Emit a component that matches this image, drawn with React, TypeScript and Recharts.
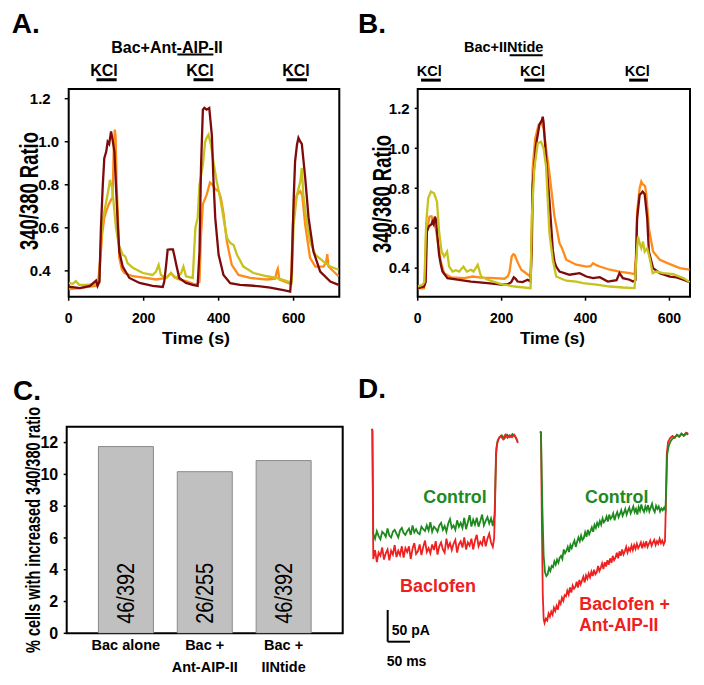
import React from 'react';
import {
  LineChart, Line, XAxis, YAxis, ReferenceArea, ReferenceLine,
  BarChart, Bar, LabelList,
} from 'recharts';

const FONT = '"Liberation Sans", Arial, Helvetica, sans-serif';

type P = [number, number];

// ---------- Panel A (Bac+Ant-AIP-II) : time (s), 340/380 ratio ----------
const aDarkRed: P[] = [[0,0.327],[30,0.32],[57,0.33],[73,0.355],[77,0.33],[82,0.35],[86,0.6],[91,0.8],[95,0.924],[100,0.953],[104,1.0],[108,0.99],[113,1.048],[117,1.01],[122,0.953],[126,0.8],[131,0.614],[135,0.49],[144,0.42],[162,0.367],[189,0.344],[224,0.33],[251,0.325],[255,0.35],[260,0.428],[264,0.498],[270,0.5],[278,0.5],[282,0.47],[287,0.428],[295,0.367],[313,0.344],[331,0.335],[344,0.33],[349,0.49],[353,0.88],[358,1.149],[362,1.157],[368,1.149],[375,1.157],[382,1.03],[386,0.83],[391,0.646],[400,0.475],[413,0.381],[431,0.343],[457,0.335],[484,0.332],[511,0.328],[538,0.322],[555,0.316],[573,0.31],[591,0.304],[595,0.397],[600,0.72],[604,0.908],[609,0.985],[613,1.018],[618,1.0],[622,0.99],[626,0.92],[631,0.833],[640,0.646],[653,0.49],[671,0.397],[698,0.35],[720,0.335]];
const aOrange: P[] = [[0,0.315],[30,0.32],[46,0.325],[73,0.33],[78,0.34],[86,0.49],[89,0.567],[95,0.646],[100,0.676],[107,0.71],[113,0.73],[117,0.74],[120,0.953],[123,1.056],[125,1.03],[128,0.8],[132,0.614],[135,0.46],[142,0.405],[149,0.39],[171,0.375],[206,0.367],[233,0.36],[260,0.367],[273,0.39],[282,0.37],[295,0.36],[313,0.352],[340,0.335],[349,0.35],[353,0.567],[358,0.71],[368,0.753],[377,0.81],[384,0.8],[391,0.78],[400,0.77],[406,0.74],[413,0.668],[422,0.536],[435,0.428],[453,0.381],[484,0.367],[529,0.36],[551,0.364],[555,0.397],[558,0.41],[562,0.36],[578,0.349],[593,0.34],[598,0.614],[602,0.72],[609,0.753],[618,0.77],[623,0.753],[631,0.614],[644,0.46],[658,0.42],[680,0.42],[687,0.443],[690,0.478],[693,0.42],[707,0.397],[720,0.375]];
const aYellow: P[] = [[0,0.344],[11,0.34],[19,0.352],[28,0.335],[46,0.335],[73,0.338],[82,0.35],[86,0.536],[89,0.614],[95,0.676],[100,0.72],[107,0.786],[110,0.823],[116,0.786],[122,0.676],[126,0.6],[134,0.52],[144,0.475],[151,0.467],[157,0.436],[171,0.414],[198,0.39],[224,0.381],[233,0.397],[240,0.428],[246,0.381],[260,0.367],[273,0.39],[287,0.367],[300,0.39],[306,0.42],[313,0.375],[331,0.367],[338,0.6],[344,0.646],[349,0.8],[358,0.893],[364,1.0],[368,1.018],[373,1.033],[379,0.99],[386,0.908],[395,0.815],[404,0.74],[413,0.646],[422,0.553],[431,0.53],[440,0.52],[449,0.475],[466,0.42],[493,0.39],[529,0.375],[555,0.367],[582,0.352],[595,0.344],[600,0.614],[609,0.753],[618,0.815],[622,0.878],[626,0.753],[636,0.614],[644,0.536],[658,0.475],[680,0.443],[698,0.42],[720,0.405]];
const aKclPeriods: P[] = [[74,128],[333,386],[581,636]];
const aDrugPeriod: P = [290, 386];
const aXTicks = [0, 200, 400, 600];
const aYTicks = [0.4, 0.6, 0.8, 1.0, 1.2];

// ---------- Panel B (Bac+IINtide) ----------
const bDarkRed: P[] = [[0,0.30],[15,0.308],[19,0.33],[22,0.583],[27,0.61],[33,0.62],[35,0.633],[38,0.62],[41,0.658],[44,0.64],[46,0.583],[51,0.466],[55,0.42],[59,0.383],[71,0.35],[95,0.342],[127,0.333],[167,0.325],[199,0.317],[215,0.32],[223,0.33],[229,0.354],[234,0.345],[238,0.333],[250,0.33],[262,0.342],[269,0.333],[272,0.5],[274,0.817],[282,1.017],[290,1.117],[296,1.14],[298,1.158],[300,1.13],[306,0.95],[314,0.74],[322,0.49],[326,0.433],[330,0.408],[338,0.383],[362,0.367],[386,0.375],[402,0.358],[418,0.35],[434,0.355],[453,0.333],[474,0.34],[481,0.375],[489,0.35],[505,0.342],[513,0.333],[519,0.34],[523,0.65],[529,0.767],[533,0.775],[536,0.783],[541,0.77],[547,0.65],[551,0.483],[561,0.40],[577,0.375],[601,0.358],[617,0.354],[633,0.342],[648,0.33]];
const bOrange: P[] = [[0,0.297],[15,0.30],[18,0.40],[20,0.567],[25,0.62],[28,0.658],[33,0.66],[37,0.633],[40,0.65],[43,0.60],[49,0.517],[55,0.433],[63,0.375],[79,0.354],[111,0.35],[131,0.358],[151,0.352],[183,0.35],[207,0.347],[215,0.36],[219,0.383],[224,0.458],[228,0.47],[231,0.467],[239,0.425],[247,0.392],[263,0.367],[269,0.358],[272,0.6],[274,0.90],[280,1.05],[288,1.117],[294,1.133],[300,1.10],[306,1.0],[314,0.875],[326,0.658],[338,0.525],[344,0.50],[354,0.442],[378,0.417],[402,0.408],[412,0.41],[418,0.425],[426,0.415],[434,0.408],[458,0.392],[481,0.383],[505,0.375],[517,0.37],[520,0.45],[523,0.683],[529,0.80],[533,0.833],[536,0.82],[539,0.817],[542,0.81],[545,0.767],[551,0.60],[561,0.483],[577,0.442],[601,0.42],[625,0.40],[648,0.392]];
const bYellow: P[] = [[0,0.308],[11.5,0.317],[16,0.33],[20,0.617],[25,0.75],[31.5,0.783],[39,0.775],[46,0.733],[51,0.583],[57,0.483],[63,0.458],[70,0.483],[75,0.408],[83,0.383],[91,0.39],[99,0.383],[109,0.408],[117,0.383],[127,0.392],[133,0.383],[143,0.417],[151,0.358],[167,0.342],[199,0.32],[231,0.308],[269,0.30],[272,0.65],[278,0.90],[286,1.025],[294,1.033],[300,1.0],[306,0.908],[314,0.575],[322,0.442],[330,0.358],[354,0.337],[378,0.333],[394,0.325],[426,0.317],[458,0.308],[489,0.303],[517,0.30],[521,0.45],[525,0.558],[529,0.525],[533,0.50],[537,0.533],[541,0.483],[547,0.50],[553,0.45],[560,0.375],[569,0.383],[585,0.375],[609,0.37],[633,0.35],[648,0.33]];
const bKclPeriods: P[] = [[8,55],[254,302],[504,549]];
const bDrugPeriod: P = [219, 298];
const bXTicks = [0, 200, 400, 600];
const bYTicks = [0.4, 0.6, 0.8, 1.0, 1.2];

// ---------- Panel C ----------
const cCategories: string[][] = [['Bac alone'], ['Bac +', 'Ant-AIP-II'], ['Bac +', 'IINtide']];
const cValues = [11.75, 10.17, 10.87];
const cCounts = ['46/392', '26/255', '46/392'];
const cYTicks = [0, 2, 4, 6, 8, 10, 12];

// ---------- Panel D : time (ms), current (pA) ----------
const dCtrlLeft: P[] = [[0,0],[2,-2],[4,-165],[8,-173],[12,-161],[16,-169],[20,-174],[24,-162],[28,-165],[32,-170],[36,-157],[40,-168],[44,-171],[48,-162],[52,-159],[56,-165],[60,-171],[64,-160],[68,-156],[72,-164],[76,-167],[80,-161],[84,-157],[88,-167],[92,-152],[96,-163],[100,-158],[104,-164],[108,-166],[112,-154],[116,-158],[120,-161],[124,-152],[128,-160],[132,-147],[136,-162],[140,-154],[144,-157],[148,-162],[152,-152],[156,-148],[160,-159],[164,-153],[168,-162],[172,-149],[176,-142],[180,-156],[184,-152],[188,-159],[192,-144],[196,-154],[200,-148],[204,-156],[208,-140],[212,-158],[216,-147],[220,-136],[224,-154],[228,-143],[232,-151],[236,-140],[240,-154],[244,-145],[248,-135],[252,-152],[256,-145],[260,-139],[264,-149],[268,-141],[272,-153],[276,-135],[278,-80],[280,-30],[283,-18],[287,-13],[292,-10],[298,-15],[304,-9],[310,-13],[316,-8],[322,-12],[328,-20]];
const dBacLeft: P[] = [[0,0],[2,-2],[4,-205],[8,-191],[12,-210],[16,-195],[20,-200],[24,-187],[28,-206],[32,-196],[36,-190],[40,-207],[44,-192],[48,-198],[52,-183],[56,-202],[60,-192],[64,-199],[68,-185],[72,-203],[76,-188],[80,-194],[84,-185],[88,-205],[92,-189],[96,-180],[100,-197],[104,-193],[108,-182],[112,-199],[116,-186],[120,-176],[124,-194],[128,-188],[132,-196],[136,-182],[140,-191],[144,-177],[148,-198],[152,-185],[156,-179],[160,-190],[164,-195],[168,-173],[172,-187],[176,-180],[180,-191],[184,-181],[188,-175],[192,-195],[196,-182],[200,-177],[204,-187],[208,-171],[212,-190],[216,-179],[220,-184],[224,-173],[228,-190],[232,-176],[236,-167],[240,-185],[244,-178],[248,-183],[252,-169],[256,-185],[260,-173],[264,-165],[268,-179],[272,-186],[275,-172],[277,-120],[279,-40],[282,-22],[286,-14],[290,-11],[295,-16],[300,-9],[305,-14],[310,-10],[315,-13],[320,-9],[325,-15],[328,-22]];
const dCtrlRight: P[] = [[378,-4],[380,-5],[383,-120],[386,-200],[389,-226],[392,-232],[395,-229],[398,-219],[401,-224],[404,-216],[407,-218],[410,-209],[413,-214],[416,-206],[419,-211],[422,-203],[425,-200],[428,-205],[431,-190],[434,-196],[437,-192],[440,-186],[443,-194],[446,-183],[449,-188],[452,-181],[455,-176],[458,-186],[461,-178],[464,-171],[467,-177],[470,-168],[473,-175],[476,-172],[479,-163],[482,-170],[485,-159],[488,-166],[491,-161],[494,-155],[497,-162],[500,-151],[503,-156],[506,-148],[509,-153],[512,-145],[515,-151],[518,-141],[521,-147],[524,-144],[527,-138],[530,-146],[533,-135],[536,-142],[539,-139],[542,-133],[545,-144],[548,-136],[551,-131],[554,-139],[557,-134],[560,-128],[563,-137],[566,-132],[569,-126],[572,-135],[575,-129],[578,-124],[581,-133],[584,-128],[587,-122],[590,-131],[593,-126],[596,-135],[599,-123],[602,-129],[605,-119],[608,-127],[611,-131],[614,-122],[617,-128],[620,-120],[623,-130],[626,-124],[629,-118],[632,-127],[635,-131],[638,-121],[641,-126],[644,-122],[647,-130],[650,-125],[653,-128],[656,-124],[659,-128],[661,-90],[663,-40],[666,-28],[670,-20],[675,-15],[680,-13],[685,-9],[690,-12],[695,-7],[700,-11],[705,-8],[710,-6]];
const dBacRight: P[] = [[378,-4],[380,-6],[382,-150],[384,-260],[386,-300],[388,-306],[391,-299],[394,-302],[397,-291],[400,-296],[403,-288],[406,-293],[409,-282],[412,-287],[415,-279],[418,-285],[421,-272],[424,-276],[427,-266],[430,-271],[433,-262],[436,-264],[439,-255],[442,-261],[445,-250],[448,-258],[451,-247],[454,-252],[457,-249],[460,-241],[463,-250],[466,-238],[469,-245],[472,-239],[475,-233],[478,-242],[481,-231],[484,-236],[487,-228],[490,-234],[493,-225],[496,-232],[499,-222],[502,-229],[505,-226],[508,-216],[511,-224],[514,-219],[517,-212],[520,-221],[523,-210],[526,-217],[529,-207],[532,-214],[535,-204],[538,-211],[541,-200],[544,-207],[547,-203],[550,-195],[553,-204],[556,-193],[559,-200],[562,-190],[565,-198],[568,-193],[571,-186],[574,-195],[577,-188],[580,-192],[583,-184],[586,-191],[589,-183],[592,-189],[595,-181],[598,-188],[601,-184],[604,-179],[607,-188],[610,-180],[613,-185],[616,-177],[619,-186],[622,-181],[625,-176],[628,-184],[631,-179],[634,-175],[637,-183],[640,-177],[643,-181],[646,-173],[649,-180],[652,-176],[655,-182],[658,-177],[660,-120],[662,-40],[665,-20],[670,-14],[675,-11],[680,-14],[685,-9],[690,-12],[695,-8],[700,-10],[705,-6],[710,-9]];
const dScaleCorner: P = [36.3, -335.5];
const dScaleMs = 50;
const dScalePA = 50;

const DARKRED = '#7d0b0b';
const ORANGE = '#ff8c1a';
const YELLOW = '#c6c21e';
const GREEN = '#1e8a1e';
const RED = '#ee2020';

const toTV = (arr: P[]) => arr.map(([t, v]) => ({ t, v }));

const tickStyle = (size: number) => ({ fill: '#000', fontSize: size, fontWeight: 'bold', fontFamily: FONT });

const makeYTick = (shiftMid: number) => (props: any) => {
  const { x, y, payload } = props;
  const v = Number(payload.value);
  const shift = v > 0.5 && v < 1.1 ? shiftMid : 0;
  return (
    <text x={x + shift} y={y} dy="0.355em" textAnchor="end" fontSize={15} fontWeight="bold"
      fontFamily={FONT} fill="#000">{v.toFixed(1)}</text>
  );
};

function TraceChart(props: {
  width: number; height: number; top: number; right: number; yAxisWidth: number; xAxisHeight: number;
  xDomain: [number, number]; yDomain: [number, number]; xTicks: number[]; yTicks: number[];
  yTickSize: number; yTickMargin: number; yShiftMid: number;
  series: { data: P[]; color: string; key: string }[];
  kcl: P[]; drug: P; kclY: number; drugY: number;
}) {
  const p = props;
  const YT = makeYTick(p.yShiftMid);
  return (
    <LineChart width={p.width} height={p.height} margin={{ top: p.top, right: p.right, left: 0, bottom: 0 }}>
      <XAxis type="number" dataKey="t" domain={p.xDomain} ticks={p.xTicks} allowDataOverflow
        height={p.xAxisHeight} axisLine={false} tickSize={4} tickMargin={12}
        tickLine={{ stroke: '#000', strokeWidth: 1.5 }} tick={tickStyle(14)} interval={0} />
      <YAxis type="number" dataKey="v" domain={p.yDomain} ticks={p.yTicks} allowDataOverflow
        width={p.yAxisWidth} axisLine={false} tickSize={p.yTickSize} tickMargin={p.yTickMargin}
        tickLine={{ stroke: '#000', strokeWidth: 1.5 }} tick={<YT />} interval={0} />
      {p.series.map((s) => (
        <Line key={s.key} data={toTV(s.data)} dataKey="v" type="linear" stroke={s.color}
          strokeWidth={2.3} dot={false} isAnimationActive={false} />
      ))}
      <ReferenceArea x1={p.xDomain[0]} x2={p.xDomain[1]} y1={p.yDomain[0]} y2={p.yDomain[1]}
        fill="none" stroke="#000" strokeWidth={2} ifOverflow="visible" />
      {p.kcl.map(([a, b], i) => (
        <ReferenceLine key={'k' + i} segment={[{ x: a, y: p.kclY }, { x: b, y: p.kclY }]}
          stroke="#000" strokeWidth={3} ifOverflow="visible" />
      ))}
      <ReferenceLine segment={[{ x: p.drug[0], y: p.drugY }, { x: p.drug[1], y: p.drugY }]}
        stroke="#000" strokeWidth={2} ifOverflow="visible" />
    </LineChart>
  );
}

const CTick = (props: any) => {
  const { x, y, payload } = props;
  const lines = cCategories[Math.round(payload.value) - 1] || [];
  return (
    <g>
      {lines.map((ln, i) => (
        <text key={i} x={x} y={y + 17 + i * 21.6} textAnchor="middle" fontSize={14.5}
          fontWeight="bold" fontFamily={FONT} fill="#000">{ln}</text>
      ))}
    </g>
  );
};

const CountLabel = (props: any) => {
  const { x, y, width, height, value } = props;
  const cx = x + width / 2;
  const cy = y + height - 40;
  return (
    <text x={cx} y={cy} dy="0.36em" textAnchor="middle" fontSize={23} fontFamily={FONT}
      textLength={61} lengthAdjust="spacingAndGlyphs"
      fill="#000" transform={`rotate(-90 ${cx} ${cy})`}>{value}</text>
  );
};

export default function App() {
  const cData = cValues.map((v, i) => ({ x: i + 1, v, label: cCounts[i] }));
  const txt = (x: number, y: number, s: string, size: number, opts: any = {}) => (
    <text x={x} y={y} fontSize={size} fontWeight="bold" fontFamily={FONT} fill={opts.fill || '#000'}
      textAnchor={opts.anchor || 'start'} transform={opts.rotate ? `rotate(-90 ${x} ${y})` : undefined}
      textLength={opts.len} lengthAdjust={opts.len ? 'spacingAndGlyphs' : undefined}
      dy={opts.rotate ? '0.36em' : undefined}>{s}</text>
  );
  return (
    <div style={{ position: 'absolute', left: 0, top: 0, width: 704, height: 685, background: '#fff', overflow: 'hidden' }}>
      <div style={{ position: 'absolute', left: 0, top: 0 }}>
        <TraceChart width={352} height={350} top={89} right={12.7} yAxisWidth={68.7} xAxisHeight={53.3}
          xDomain={[0, 722]} yDomain={[0.28, 1.245]} xTicks={aXTicks} yTicks={aYTicks}
          yTickSize={4} yTickMargin={14} yShiftMid={8.5}
          series={[{ key: 'o', data: aOrange, color: ORANGE }, { key: 'y', data: aYellow, color: YELLOW }, { key: 'd', data: aDarkRed, color: DARKRED }]}
          kcl={aKclPeriods} drug={aDrugPeriod} kclY={1.288} drugY={1.405} />
      </div>
      <div style={{ position: 'absolute', left: 352, top: 0 }}>
        <TraceChart width={352} height={350} top={89} right={14} yAxisWidth={65.7} xAxisHeight={53.3}
          xDomain={[0, 649]} yDomain={[0.257, 1.297]} xTicks={bXTicks} yTicks={bYTicks}
          yTickSize={3} yTickMargin={5} yShiftMid={0}
          series={[{ key: 'o', data: bOrange, color: ORANGE }, { key: 'd', data: bDarkRed, color: DARKRED }, { key: 'y', data: bYellow, color: YELLOW }]}
          kcl={bKclPeriods} drug={bDrugPeriod} kclY={1.3415} drugY={1.4665} />
      </div>
      <div style={{ position: 'absolute', left: 0, top: 330 }}>
        <BarChart width={352} height={355} data={cData} margin={{ top: 96.7, right: 9.3, left: 0, bottom: 0 }}>
          <XAxis type="number" dataKey="x" domain={[0.25, 3.75]} ticks={[1, 2, 3]} allowDataOverflow
            height={51.7} axisLine={false} tickLine={false} tickSize={0} tickMargin={0} tick={<CTick />} interval={0} />
          <YAxis type="number" domain={[0, 13]} ticks={cYTicks} allowDataOverflow width={66.7}
            axisLine={false} tickSize={3} tickMargin={5.5} tickLine={{ stroke: '#000', strokeWidth: 1.5 }}
            tick={tickStyle(16)} interval={0} />
          <Bar dataKey="v" barSize={55} fill="#c0c0c0" stroke="#8a8a8a" strokeWidth={1} isAnimationActive={false}>
            <LabelList dataKey="label" content={<CountLabel />} />
          </Bar>
          <ReferenceArea x1={0.25} x2={3.75} y1={0} y2={13} fill="none" stroke="#000" strokeWidth={2} ifOverflow="visible" />
        </BarChart>
      </div>
      <div style={{ position: 'absolute', left: 352, top: 330 }}>
        <LineChart width={352} height={355} margin={{ top: 0, right: 0, left: 0, bottom: 0 }}>
          <XAxis type="number" dataKey="t" domain={[-43.7, 745.5]} allowDataOverflow hide />
          <YAxis type="number" dataKey="v" domain={[-403.8, 156.2]} allowDataOverflow hide />
          <Line data={toTV(dCtrlLeft)} dataKey="v" stroke={GREEN} strokeWidth={1.8} dot={false} isAnimationActive={false} />
          <Line data={toTV(dBacLeft)} dataKey="v" stroke={RED} strokeWidth={1.8} dot={false} isAnimationActive={false} />
          <Line data={toTV(dBacRight)} dataKey="v" stroke={RED} strokeWidth={1.8} dot={false} isAnimationActive={false} />
          <Line data={toTV(dCtrlRight)} dataKey="v" stroke={GREEN} strokeWidth={1.8} dot={false} isAnimationActive={false} />
          <ReferenceLine segment={[{ x: dScaleCorner[0], y: dScaleCorner[1] }, { x: dScaleCorner[0], y: dScaleCorner[1] + dScalePA }]}
            stroke="#000" strokeWidth={2} ifOverflow="visible" />
          <ReferenceLine segment={[{ x: dScaleCorner[0], y: dScaleCorner[1] }, { x: dScaleCorner[0] + dScaleMs, y: dScaleCorner[1] }]}
            stroke="#000" strokeWidth={2} ifOverflow="visible" />
        </LineChart>
      </div>
      <svg width={704} height={685} style={{ position: 'absolute', left: 0, top: 0, pointerEvents: 'none' }}>
        {txt(11.7, 33.3, 'A.', 28)}
        {txt(358, 33.3, 'B.', 28)}
        {txt(13, 400, 'C.', 28)}
        {txt(358, 398, 'D.', 28)}
        {txt(167, 53, 'Bac+Ant-AIP-II', 16, { anchor: 'middle' })}
        {txt(503.7, 51.7, 'Bac+IINtide', 14.5, { anchor: 'middle' })}
        {txt(104, 76, 'KCl', 16, { anchor: 'middle' })}
        {txt(200, 76, 'KCl', 16, { anchor: 'middle' })}
        {txt(296, 76, 'KCl', 16, { anchor: 'middle' })}
        {txt(429.2, 76, 'KCl', 14.5, { anchor: 'middle' })}
        {txt(532.5, 76, 'KCl', 14.5, { anchor: 'middle' })}
        {txt(637.2, 76, 'KCl', 14.5, { anchor: 'middle' })}
        {txt(28.5, 191, '340/380 Ratio', 26, { anchor: 'middle', rotate: true, len: 118 })}
        {txt(381.5, 194, '340/380 Ratio', 26, { anchor: 'middle', rotate: true, len: 118 })}
        {txt(196, 343.5, 'Time (s)', 17, { anchor: 'middle', len: 68 })}
        {txt(552.5, 343.5, 'Time (s)', 17, { anchor: 'middle', len: 65 })}
        {txt(33.3, 530, '% cells with increased 340/380 ratio', 20, { anchor: 'middle', rotate: true, len: 246 })}
        {txt(455, 503.3, 'Control', 17.5, { anchor: 'middle', fill: GREEN, len: 63.4 })}
        {txt(438, 591.7, 'Baclofen', 17.5, { anchor: 'middle', fill: RED, len: 76 })}
        {txt(616.7, 503.3, 'Control', 17.5, { anchor: 'middle', fill: GREEN, len: 63.4 })}
        {txt(579.3, 610, 'Baclofen +', 17.5, { fill: RED, len: 90.7 })}
        {txt(579.3, 631, 'Ant-AIP-II', 17.5, { fill: RED, len: 79 })}
        {txt(391.7, 635, '50 pA', 14)}
        {txt(386.7, 666, '50 ms', 14)}
      </svg>
    </div>
  );
}
